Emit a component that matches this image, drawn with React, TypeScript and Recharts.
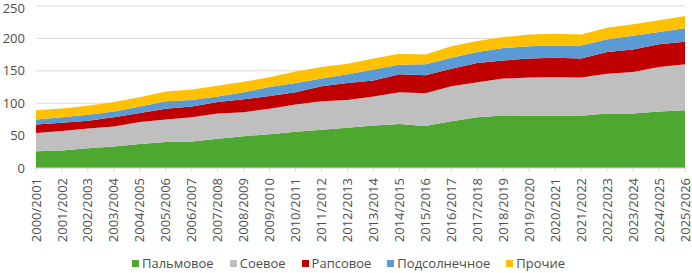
import { AreaChart, Area, XAxis, YAxis, CartesianGrid, Legend } from "recharts";

const seasons = [
  "2000/2001", "2001/2002", "2002/2003", "2003/2004", "2004/2005", "2005/2006",
  "2006/2007", "2007/2008", "2008/2009", "2009/2010", "2010/2011", "2011/2012",
  "2012/2013", "2013/2014", "2014/2015", "2015/2016", "2016/2017", "2017/2018",
  "2018/2019", "2019/2020", "2020/2021", "2021/2022", "2022/2023", "2023/2024",
  "2024/2025", "2025/2026",
];

// млн т по видам масел
const palm = [26, 27, 30.5, 33, 37, 40, 41, 45, 49, 52, 56, 59, 62, 65.5, 68, 65, 72, 78.5, 81, 80.5, 80.5, 80.5, 84, 84, 87, 89];
const soy = [28, 30, 30.5, 31, 34, 35, 37.5, 39, 37, 39.5, 42, 44, 43, 45, 49, 50.5, 54, 54, 57, 59, 59.5, 59, 61.5, 64, 69, 71];
const rapeseed = [13, 13, 12, 14.5, 14, 16.5, 16.5, 18, 20, 19.5, 19, 23, 26, 24.5, 27.5, 27.5, 27, 29.5, 28, 29.5, 30, 29.5, 33.5, 35, 35, 35];
const sunflower = [8, 8.5, 9, 8.5, 10, 11.5, 10, 8.5, 11, 14, 14, 12, 13.5, 17, 15, 17, 17, 17, 19, 19, 19, 20, 19.5, 21, 19, 20.5];
const other = [14, 13.5, 14, 15, 14, 15, 16, 16.5, 16, 15, 18, 18, 16.5, 17, 17, 15, 18, 17, 17, 18, 18, 17, 18, 18, 18, 19];

const yTicks = [0, 50, 100, 150, 200, 250];

const series = [
  { key: "palm", name: "Пальмовое", color: "#4ea72e" },
  { key: "soy", name: "Соевое", color: "#bfbfbf" },
  { key: "rapeseed", name: "Рапсовое", color: "#c00000" },
  { key: "sunflower", name: "Подсолнечное", color: "#5b9bd5" },
  { key: "other", name: "Прочие", color: "#ffc000" },
];

const data = seasons.map((season, i) => ({
  season,
  palm: palm[i],
  soy: soy[i],
  rapeseed: rapeseed[i],
  sunflower: sunflower[i],
  other: other[i],
}));

const FONT = "'Open Sans', sans-serif";
const TEXT = "#4d4d4d";

const SeasonTick = (props: any) => {
  const { x, y, payload } = props;
  return (
    <text
      x={x}
      y={y}
      dy="0.35em"
      transform={`rotate(-90, ${x}, ${y})`}
      textAnchor="end"
      fill={TEXT}
      fontSize={13}
      fontFamily={FONT}
    >
      {payload.value}
    </text>
  );
};

const LegendContent = () => (
  <div style={{ display: "flex", justifyContent: "center", gap: 16, paddingLeft: 12, fontFamily: FONT, fontSize: 13, color: TEXT, lineHeight: "20px" }}>
    {series.map((s) => (
      <div key={s.key} style={{ display: "flex", alignItems: "center" }}>
        <span style={{ width: 7, height: 7, background: s.color, marginRight: 3 }} />
        <span>{s.name}</span>
      </div>
    ))}
  </div>
);

export default function App() {
  return (
    <div style={{ position: "absolute", left: 0, top: 0, background: "#fff" }}>
      <AreaChart width={692} height={273} data={data} margin={{ top: 6, right: 7, left: 0, bottom: 0 }}>
        <CartesianGrid stroke="#d9d9d9" vertical={false} />
        <XAxis
          dataKey="season"
          interval={0}
          height={85}
          tick={<SeasonTick />}
          tickSize={4}
          tickMargin={6}
          stroke="#d9d9d9"
        />
        <YAxis
          domain={[0, 250]}
          ticks={yTicks}
          width={36}
          axisLine={false}
          tickLine={false}
          tickSize={0}
          tickMargin={11}
          tick={{ fill: TEXT, fontSize: 13, fontFamily: FONT }}
        />
        <Legend verticalAlign="bottom" height={20} content={<LegendContent />} />
        {series.map((s) => (
          <Area
            key={s.key}
            type="linear"
            dataKey={s.key}
            name={s.name}
            stackId="oils"
            fill={s.color}
            fillOpacity={1}
            stroke="none"
            isAnimationActive={false}
          />
        ))}
      </AreaChart>
    </div>
  );
}
